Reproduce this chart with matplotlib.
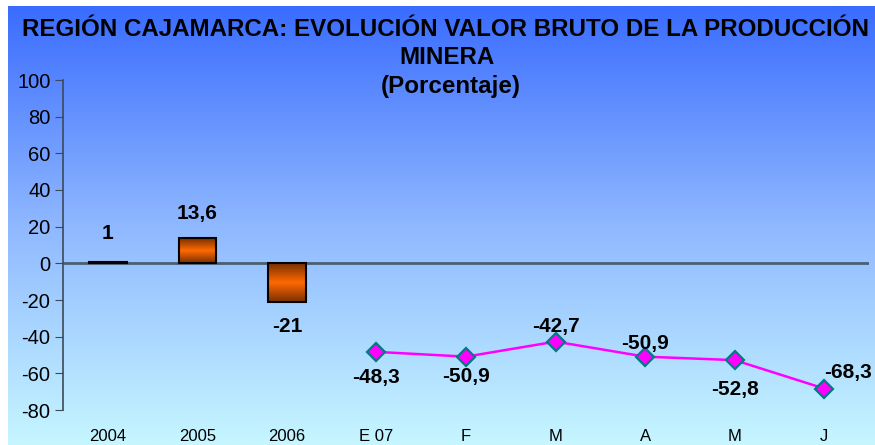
import numpy as np
import matplotlib.pyplot as plt
from matplotlib.colors import LinearSegmentedColormap

# ── data ──────────────────────────────────────────────────────────────────────
categories = ["2004", "2005", "2006", "E 07", "F", "M", "A", "M", "J"]
bar_values = [1, 13.6, -21]
line_values = [-48.3, -50.9, -42.7, -50.9, -52.8, -68.3]
bar_labels = ["1", "13,6", "-21"]
line_labels = ["-48,3", "-50,9", "-42,7", "-50,9", "-52,8", "-68,3"]

plt.rcParams["font.family"] = ["Liberation Sans", "DejaVu Sans"]
plt.rcParams["axes.unicode_minus"] = False

PX = 72 / 100  # pixels -> points

fig = plt.figure(figsize=(8.75, 4.45), dpi=100)

# ── background gradient ──────────────────────────────────────────────────────
bg = fig.add_axes([8 / 875, 0, 1 - 8 / 875, 1 - 6 / 445], zorder=0)
bg_cmap = LinearSegmentedColormap.from_list("bg", ["#3a6cfe", "#8fb8ff", "#c6f6ff"])
bg.imshow(np.linspace(0, 1, 256).reshape(-1, 1), aspect="auto", cmap=bg_cmap,
          extent=[0, 1, 0, 1])
bg.axis("off")

# ── main axes ────────────────────────────────────────────────────────────────
x0, x1 = 63 / 875, 869 / 875
y_top, y_bot = 80 / 445, 410 / 445
ax = fig.add_axes([x0, 1 - y_bot, x1 - x0, y_bot - y_top], zorder=1)
ax.patch.set_alpha(0)

for s in ("top", "right", "bottom"):
    ax.spines[s].set_visible(False)
ax.spines["left"].set_color("#3c4a58")
ax.spines["left"].set_linewidth(1.2)
ax.axhline(0, color="#4a6070", lw=2, zorder=2)

ax.set_yticks(np.arange(-80, 101, 20))
ax.tick_params(axis="y", direction="out", length=6, color="#3c4a58",
               labelsize=14.5, pad=3)
ax.set_xticks(range(len(categories)))
ax.set_xticklabels(categories, fontsize=12)
ax.tick_params(axis="x", length=0, pad=14)

# ── bars with vertical orange gradient ───────────────────────────────────────
bar_cmap = LinearSegmentedColormap.from_list("bar", ["#7a3000", "#ff6a00", "#7a3000"])
bars = ax.bar(range(len(bar_values)), bar_values, width=0.42,
              color="none", edgecolor="black", linewidth=1.5, zorder=3)
for b in bars:
    x, y = b.get_x(), b.get_y()
    w, h = b.get_width(), b.get_height()
    im = ax.imshow(np.linspace(0, 1, 64).reshape(-1, 1), cmap=bar_cmap,
                   aspect="auto", extent=[x, x + w, y, y + h], zorder=2.5)
    im.set_clip_path(b)
ax.set_xlim(-0.5, len(categories) - 0.5)
ax.set_ylim(-80, 100)

# label offsets in pixels (dx, dy up)
bar_offsets = [(0, 28), (0, 25), (0, -25)]
for i, (v, lab) in enumerate(zip(bar_values, bar_labels)):
    dx, dy = bar_offsets[i]
    ax.annotate(lab, (i, v), xytext=(dx * PX, dy * PX), textcoords="offset points",
                ha="center", va="center", fontsize=15, fontweight="bold", zorder=5)

# ── line series ──────────────────────────────────────────────────────────────
line_x = np.arange(len(bar_values), len(categories))
ax.plot(line_x, line_values, color="#ff00ff", lw=1.8, marker="D", ms=9.5,
        mfc="#ff00ff", mec="#007c80", mew=1.6, zorder=4)

label_offsets = [(0, -26), (0, -20), (0, 15), (0, 13), (0, -29), (24, 16)]
for xi, v, lab, (dx, dy) in zip(line_x, line_values, line_labels, label_offsets):
    ax.annotate(lab, (xi, v), xytext=(dx * PX, dy * PX), textcoords="offset points",
                ha="center", va="center", fontsize=15, fontweight="bold",
                zorder=5, annotation_clip=False)

# ── title ────────────────────────────────────────────────────────────────────
fig.text(445 / 875, 1 - 29 / 445,
         "REGIÓN CAJAMARCA: EVOLUCIÓN VALOR BRUTO DE LA PRODUCCIÓN",
         ha="center", va="center", fontsize=17.4, fontweight="bold", zorder=3)
fig.text(447 / 875, 1 - 57 / 445, "MINERA",
         ha="center", va="center", fontsize=17.4, fontweight="bold", zorder=3)
fig.text(451 / 875, 1 - 87 / 445, "(Porcentaje)",
         ha="center", va="center", fontsize=17.4, fontweight="bold", zorder=3)

fig.savefig("out.png", dpi=100)
